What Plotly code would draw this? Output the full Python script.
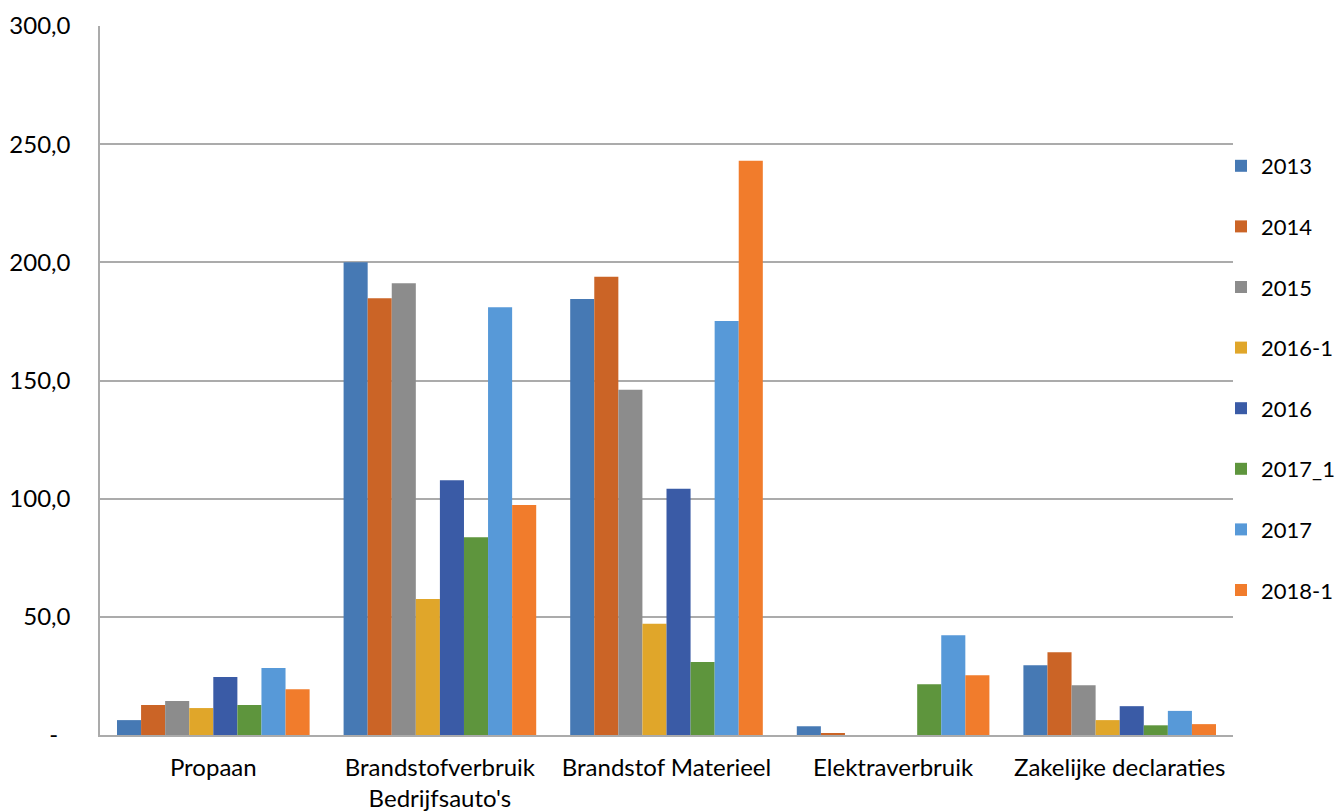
import plotly.graph_objects as go

categories = ["Propaan", "Brandstofverbruik<br>Bedrijfsauto's", "Brandstof Materieel",
              "Elektraverbruik", "Zakelijke declaraties"]
series_names = ["2013", "2014", "2015", "2016-1", "2016", "2017_1", "2017", "2018-1"]
v_2013 = [6.3, 200.0, 184.5, 3.7, 29.5]
v_2014 = [12.7, 184.8, 193.9, 0.5, 35.0]
v_2015 = [14.4, 191.2, 146.1, 0.0, 21.0]
v_2016_1 = [11.4, 57.5, 47.1, 0.0, 6.3]
v_2016 = [24.5, 107.8, 104.2, 0.0, 12.2]
v_2017_1 = [12.7, 83.7, 30.9, 21.5, 4.1]
v_2017 = [28.3, 181.0, 175.2, 42.2, 10.2]
v_2018_1 = [19.4, 97.3, 243.0, 25.3, 4.6]
series_values = [v_2013, v_2014, v_2015, v_2016_1, v_2016, v_2017_1, v_2017, v_2018_1]
colors = ["#4679B4", "#CB6426", "#8C8C8C", "#E0A62A", "#3A5BA6", "#5E953D", "#5799D8", "#F17C2C"]
tick_vals = [0, 50, 100, 150, 200, 250, 300]
tick_text = ["-  ", "50,0", "100,0", "150,0", "200,0", "250,0", "300,0"]

fig = go.Figure()
for name, vals, col in zip(series_names, series_values, colors):
    fig.add_trace(go.Bar(name=name, x=categories, y=vals, marker=dict(color=col, line=dict(width=0)),
                         legendgroup=name))

font = "Lato, Calibri, sans-serif"
fig.update_layout(
    width=1343, height=811,
    barmode="group", bargap=0.15, bargroupgap=0,
    plot_bgcolor="white", paper_bgcolor="white",
    margin=dict(l=100, r=110, t=26, b=76, autoexpand=False),
    font=dict(family=font, size=24, color="#000000"),
    showlegend=True,
    legend=dict(xref="container", yref="container", x=1221 / 1343, xanchor="left",
                y=1 - 145 / 811, yanchor="top", maxheight=700,
                font=dict(size=22), tracegroupgap=29, itemwidth=30,
                bgcolor="rgba(0,0,0,0)"),
    xaxis=dict(showgrid=False, showline=True, linecolor="#ABABAB", linewidth=1.5,
               ticks="", tickfont=dict(size=24), automargin=False, ticklabelstandoff=10),
    yaxis=dict(range=[0, 300], tickvals=tick_vals, ticktext=tick_text,
               showgrid=True, gridcolor="#ABABAB", gridwidth=1.5,
               showline=True, linecolor="#ABABAB", linewidth=1.5,
               zeroline=False, ticks="", ticklabelstandoff=23,
               tickfont=dict(size=24), automargin=False),
)
fig.write_html("out.html")
